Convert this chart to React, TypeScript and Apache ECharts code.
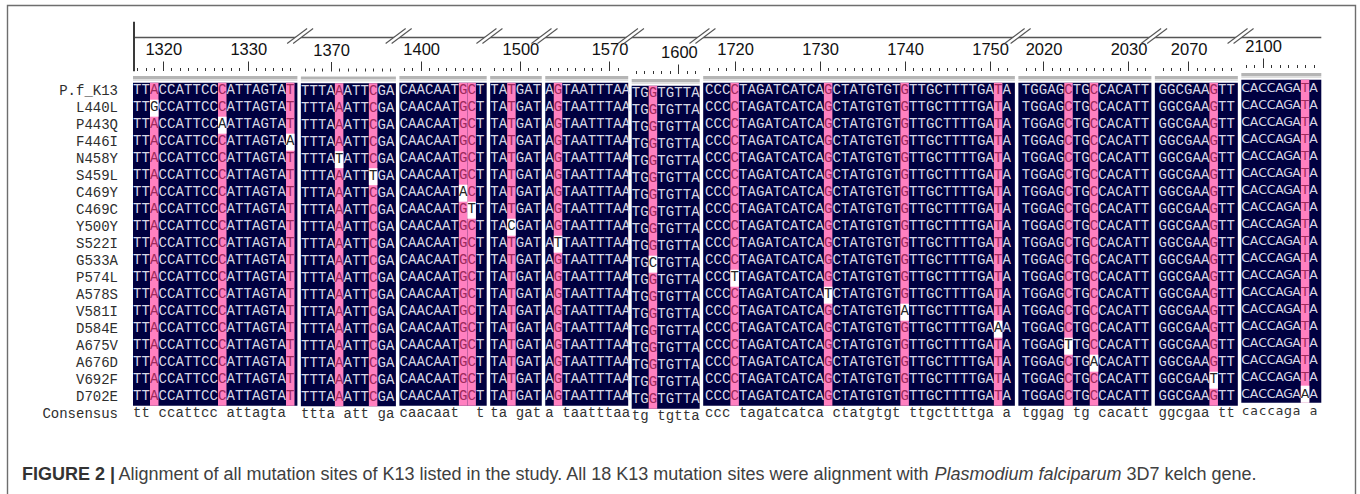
import React, { useEffect, useRef } from "react";
import * as echarts from "echarts";

// ---------------- data ----------------
const ROW_NAMES = [
  "P.f_K13", "L440L", "P443Q", "F446I", "N458Y", "S459L", "C469Y", "C469C", "Y500Y", "S522I",
  "G533A", "P574L", "A578S", "V581I", "D584E", "A675V", "A676D", "V692F", "D702E", "Consensus",
];

// reference (3D7 kelch) bases shown in each alignment window, including the cut-off bases at the edges
const BLOCK_SEQUENCES = [
  "TTACCATTCCCATTAGTATT",
  "TTTAAATTCGAT",
  "CAACAATGCTC",
  "TATGATA",
  "AGTAATTTAA",
  "TGGTGTTA",
  "CCCCCTAGATCATCAGCTATGTGTGTTGCTTTTGATAA",
  "TTGGAGCTGCCACATTG",
  "TGGCGAAGTTA",
  "CACCAGATAC",
];
// ruler number of the first base of each window
const BLOCK_FIRST_POSITION = [1317, 1367, 1398, 1497, 1563, 1595, 1716, 2017, 2066, 2098];
// variable (highlighted) columns inside each window
const BLOCK_VARIABLE_SITES = [[2, 10, 18], [4, 8], [7, 8], [2], [1], [2], [4, 15, 24, 35], [6, 9], [7], [7]];

// mutation k belongs to sequence row k + 1
const MUTATION_BLOCK = [0, 0, 0, 1, 1, 2, 2, 3, 4, 5, 6, 6, 6, 6, 7, 7, 8, 9];
const MUTATION_INDEX = [2, 10, 18, 4, 8, 7, 8, 2, 1, 2, 4, 15, 24, 35, 6, 9, 7, 7];
const MUTATION_BASE = ["G", "A", "A", "T", "T", "A", "T", "C", "T", "C", "T", "T", "A", "A", "T", "A", "T", "A"];

// ---------------- layout / style ----------------
const W = 1360;
const H = 494;
const CHAR_PX = 8.5;
const GRID_LEFT = 133;
const GRID_TOP = 82.7;
const ROW_PX = 17;
const BLOCK_GAP = 0.41; // in character widths
const BLOCK_HIDDEN_LEAD = [0, 0, 0, 0, 0, 0, 0.8, 0.6, 0.58, 0];
const BLOCK_VISIBLE = [19.34, 11.18, 10.27, 6.07, 9.76, 8.0, 36.67, 15.65, 9.76, 9.41];
const BLOCK_DY = [0, 0.5, 0, 0, 0, 3, 0, 0, 0, -3];
const MONO = "'Liberation Mono', 'DejaVu Sans Mono', monospace";
const SANS = "'Liberation Sans', Arial, sans-serif";
const BLOCK_FONT = [MONO, MONO, MONO, MONO, MONO, MONO, MONO, MONO, MONO, "'DejaVu Sans', sans-serif"];
const BLOCK_FONT_SIZE = [14, 14, 14, 14, 14, 14, 14, 14, 14, 12.5];

const NAVY = "#000040";
const PINK = "#ff80c0";
const LETTER_COLORS = ["#d8d8e6", "#9c2a5c", "#262626", "#333333"];

function buildOption() {
  const nB = BLOCK_VISIBLE.length;
  const starts: number[] = [];
  let acc = 0;
  for (let b = 0; b < nB; b++) {
    starts.push(acc);
    acc += BLOCK_VISIBLE[b] + BLOCK_GAP;
  }
  const total = starts[nB - 1] + BLOCK_VISIBLE[nB - 1];
  const nRows = ROW_NAMES.length;
  const seqRows = nRows - 1;
  const lastSeqRow = seqRows - 1;

  const mutMap = new Map<string, string>();
  MUTATION_BLOCK.forEach((b, k) => mutMap.set(`${k + 1}|${b}|${MUTATION_INDEX[k]}`, MUTATION_BASE[k]));

  const blockData: number[][] = [];
  const pinkData: number[][] = [];
  const mutData: number[][] = [];
  const letterData: number[][] = [];
  const letterText: string[] = [];
  const rulerData: number[][] = [];
  const breakData: number[][] = [];

  for (let b = 0; b < nB; b++) {
    const s = starts[b];
    const e = s + BLOCK_VISIBLE[b];
    const lead = BLOCK_HIDDEN_LEAD[b];
    const seq = BLOCK_SEQUENCES[b];
    blockData.push([s, e, 0, b]);
    if (b > 0) breakData.push([(starts[b - 1] + BLOCK_VISIBLE[b - 1] + s) / 2, 0, b]);
    for (let i = 0; i < seq.length; i++) {
      const r0 = s - lead + i;
      const c0 = Math.max(r0, s);
      const c1 = Math.min(r0 + 1, e);
      const frac = c1 - c0;
      if (frac <= 0.001) continue;
      const xc = r0 + 0.5;
      const variable = BLOCK_VARIABLE_SITES[b].includes(i);
      if (variable) pinkData.push([c0, c1, 0, b]);
      if (frac > 0.99) rulerData.push([xc, 0, BLOCK_FIRST_POSITION[b] + i, b]);
      if (frac < 0.75) continue;
      for (let r = 0; r <= lastSeqRow; r++) {
        const m = mutMap.get(`${r}|${b}|${i}`);
        if (m) mutData.push([c0, c1, r, b]);
        letterData.push([xc, r, m ? 2 : variable ? 1 : 0, b]);
        letterText.push(m ?? seq[i]);
      }
      if (!variable) {
        letterData.push([xc, seqRows, 3, b]);
        letterText.push(seq[i].toLowerCase());
      }
    }
  }

  const gridTopOf = (api: any, x: number) => {
    const p = api.coord([x, 0]);
    const h = api.size([0, 1])[1];
    return { x: p[0], top: p[1] - h / 2, h };
  };

  const series: any[] = [
    {
      type: "custom",
      name: "windows",
      silent: true,
      z: 1,
      encode: { x: [0, 1], y: 2 },
      data: blockData,
      renderItem: (params: any, api: any) => {
        const b = api.value(3);
        const dy = BLOCK_DY[b];
        const a = api.coord([api.value(0), 0]);
        const z = api.coord([api.value(1), lastSeqRow]);
        const h = api.size([0, 1])[1];
        const top = a[1] - h / 2 + dy;
        const bottom = z[1] + h / 2 + dy;
        const w = z[0] - a[0];
        return {
          type: "group",
          children: [
            { type: "rect", shape: { x: a[0], y: top, width: w, height: bottom - top }, style: { fill: NAVY } },
            { type: "rect", shape: { x: a[0], y: top - 6.7, width: w, height: 3 }, style: { fill: "#b5b5b5" } },
            { type: "rect", shape: { x: a[0], y: top - 3.7, width: w, height: 2 }, style: { fill: "#dfdfdf" } },
          ],
        };
      },
    },
    {
      type: "custom",
      name: "variable sites",
      silent: true,
      z: 2,
      encode: { x: [0, 1], y: 2 },
      data: pinkData,
      renderItem: (params: any, api: any) => {
        const b = api.value(3);
        const dy = BLOCK_DY[b];
        const a = api.coord([api.value(0), 0]);
        const z = api.coord([api.value(1), lastSeqRow]);
        const h = api.size([0, 1])[1];
        const top = a[1] - h / 2 + dy;
        const bottom = z[1] + h / 2 + dy;
        return { type: "rect", shape: { x: a[0], y: top, width: z[0] - a[0], height: bottom - top }, style: { fill: PINK } };
      },
    },
    {
      type: "custom",
      name: "mutations",
      silent: true,
      z: 3,
      encode: { x: [0, 1], y: 2 },
      data: mutData,
      renderItem: (params: any, api: any) => {
        const b = api.value(3);
        const dy = BLOCK_DY[b];
        const a = api.coord([api.value(0), api.value(2)]);
        const z = api.coord([api.value(1), api.value(2)]);
        const h = api.size([0, 1])[1];
        return { type: "rect", shape: { x: a[0], y: a[1] - h / 2 + dy, width: z[0] - a[0], height: h }, style: { fill: "#ffffff" } };
      },
    },
    {
      type: "custom",
      name: "bases",
      silent: true,
      z: 4,
      encode: { x: 0, y: 1 },
      data: letterData,
      renderItem: (params: any, api: any) => {
        const kind = api.value(2);
        const b = api.value(3);
        const p = api.coord([api.value(0), api.value(1)]);
        return {
          type: "text",
          x: p[0],
          y: p[1] - 1.2 + BLOCK_DY[b],
          style: {
            text: letterText[params.dataIndex],
            fill: LETTER_COLORS[kind],
            fontFamily: BLOCK_FONT[b],
            fontSize: BLOCK_FONT_SIZE[b],
            align: "center",
            verticalAlign: "middle",
          },
        };
      },
    },
    {
      type: "custom",
      name: "frame",
      silent: true,
      z: 5,
      encode: { x: 0, y: 1 },
      data: [[0, 0]],
      renderItem: (params: any, api: any) => {
        const g = gridTopOf(api, 0);
        const end = api.coord([total, 0])[0];
        const lineY = g.top - 45.2;
        return {
          type: "group",
          children: [
            { type: "line", shape: { x1: g.x + 1, y1: g.top - 61, x2: g.x + 1, y2: g.top - 11.5 }, style: { stroke: "#3a3a3a", lineWidth: 2 } },
            { type: "line", shape: { x1: g.x + 2, y1: lineY, x2: end, y2: lineY }, style: { stroke: "#555555", lineWidth: 1.3 } },
          ],
        };
      },
    },
    {
      type: "custom",
      name: "ruler",
      silent: true,
      z: 6,
      encode: { x: 0, y: 1 },
      data: rulerData,
      renderItem: (params: any, api: any) => {
        const b = api.value(3);
        const pos = api.value(2);
        const g = gridTopOf(api, api.value(0));
        const top = g.top + BLOCK_DY[b];
        const x = Math.round(g.x) + 0.5;
        const long = pos % 10 === 0;
        const children: any[] = [
          { type: "line", shape: { x1: x, y1: top - (long ? 21.2 : 14.7), x2: x, y2: top - 11.7 }, style: { stroke: "#333333", lineWidth: 1 } },
        ];
        if (long) {
          children.push({
            type: "text",
            x: g.x + 1,
            y: top - 33.7,
            style: { text: String(pos), fill: "#111111", fontFamily: SANS, fontSize: 16.5, align: "center", verticalAlign: "middle" },
          });
        }
        return { type: "group", children };
      },
    },
    {
      type: "custom",
      name: "breaks",
      silent: true,
      z: 7,
      encode: { x: 0, y: 1 },
      data: breakData,
      renderItem: (params: any, api: any) => {
        const g = gridTopOf(api, api.value(0));
        const cx = g.x + 1;
        const cy = g.top - 47.2;
        const lineY = g.top - 45.2;
        const slope = 20 / 15;
        const xOn = (x0: number, y: number) => x0 + (cy + 8 - y) * slope;
        const ya = lineY - 2.5;
        const yb = lineY + 2.5;
        return {
          type: "group",
          children: [
            {
              type: "polygon",
              shape: { points: [[xOn(cx - 13, yb), yb], [xOn(cx - 13, ya), ya], [xOn(cx - 7, ya), ya], [xOn(cx - 7, yb), yb]] },
              style: { fill: "#ffffff" },
            },
            { type: "line", shape: { x1: cx - 13, y1: cy + 8, x2: cx + 7, y2: cy - 7 }, style: { stroke: "#555555", lineWidth: 1.1 } },
            { type: "line", shape: { x1: cx - 7, y1: cy + 8, x2: cx + 13, y2: cy - 7 }, style: { stroke: "#555555", lineWidth: 1.1 } },
          ],
        };
      },
    },
  ];

  return {
    animation: false,
    backgroundColor: "#ffffff",
    grid: {
      left: GRID_LEFT,
      top: GRID_TOP,
      width: total * CHAR_PX,
      height: nRows * ROW_PX,
      containLabel: false,
    },
    xAxis: { type: "value", min: 0, max: total, show: false },
    yAxis: {
      type: "category",
      data: ROW_NAMES,
      inverse: true,
      axisLine: { show: false },
      axisTick: { show: false },
      splitLine: { show: false },
      axisLabel: {
        interval: 0,
        margin: 15,
        fontFamily: MONO,
        fontSize: 14,
        color: "#2e2e2e",
        padding: [0, 0, 4, 0],
      },
    },
    graphic: [
      {
        type: "rect",
        silent: true,
        shape: { x: 7.5, y: 5.5, width: 1348, height: 520 },
        style: { fill: "none", stroke: "#6e6e6e", lineWidth: 1.4 },
      },
      {
        type: "text",
        silent: true,
        x: 22,
        y: 473.7,
        style: {
          text: "{b|FIGURE 2 |} {r|Alignment of all mutation sites of K13 listed in the study. All 18 K13 mutation sites were alignment with }{i|Plasmodium falciparum}{r| 3D7 kelch gene.}",
          verticalAlign: "middle",
          align: "left",
          rich: {
            b: { fontFamily: SANS, fontSize: 18, fontWeight: "bold", fill: "#333333", color: "#333333" },
            r: { fontFamily: SANS, fontSize: 18, fill: "#404040", color: "#404040" },
            i: { fontFamily: SANS, fontSize: 18, fontStyle: "italic", fill: "#404040", color: "#404040" },
          },
        },
      },
    ],
    series,
  };
}

export default function App() {
  const ref = useRef<HTMLDivElement>(null);
  useEffect(() => {
    if (!ref.current) return;
    const chart = echarts.init(ref.current, null, { renderer: "svg" });
    chart.setOption(buildOption() as any);
    return () => chart.dispose();
  }, []);
  return (
    <div
      ref={ref}
      style={{ position: "absolute", left: 0, top: 0, width: W, height: H, background: "#ffffff" }}
    />
  );
}
